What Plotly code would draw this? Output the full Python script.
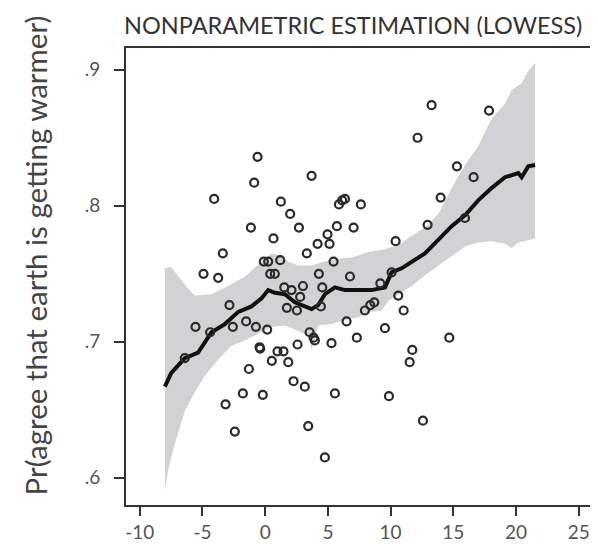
import plotly.graph_objects as go

# scatter points (x, Pr agree)
pts_x = [13.27, 17.85, 12.15, -0.61, 15.29, 3.70, -0.88, 16.62, -4.07, 13.99,
         6.36, 6.14, 5.88, 7.63, 1.25, 1.99, -1.14, 2.69, 5.72, 7.05,
         12.95, 0.66, 4.97, 4.18, 5.13, 10.40, -3.38, 3.32, -0.11, 0.24,
         1.20, 5.45, -4.92, -3.75, 0.40, 0.77, 4.28, 6.76, 10.08, 1.52,
         2.10, 3.01, 4.55, 9.18, 2.79, 10.61, -2.85, 1.73, 2.53, 4.44,
         8.70, 8.38, 7.95, 11.04, -5.56, -4.39, -2.58, -1.52, -0.74, 0.16,
         6.49, 9.55, 3.54, 3.96, 3.86, 7.31, 5.29, 2.58, 14.68, -0.40,
         -0.45, 0.98, 1.46, 0.53, 1.84, 11.73, 11.52, -1.30, 2.26, 3.16,
         -1.78, -0.19, 5.56, 9.87, -3.16, -2.42, 3.43, 12.58, 4.76, -6.41,
         15.93]
pts_y = [.874, .870, .850, .836, .829, .822, .817, .821, .805, .806,
         .805, .804, .801, .801, .803, .794, .784, .784, .785, .784,
         .786, .776, .779, .772, .772, .774, .765, .765, .759, .759,
         .760, .759, .750, .747, .750, .750, .750, .748, .751, .740,
         .738, .741, .740, .743, .733, .734, .727, .725, .723, .726,
         .729, .727, .723, .723, .711, .707, .711, .715, .711, .709,
         .715, .710, .707, .701, .703, .703, .699, .698, .703, .695,
         .696, .693, .693, .686, .685, .694, .685, .680, .671, .667,
         .662, .661, .662, .660, .654, .634, .638, .642, .615, .688,
         .791]

# lowess fit
fit_x = [-8.0, -7.5, -6.41, -5.35, -4.28, -3.22, -2.15, -1.09, -0.29, 0.24,
         0.77, 1.57, 2.37, 3.16, 3.70, 4.23, 4.76, 5.56, 6.36, 7.42,
         8.48, 9.55, 10.08, 10.88, 11.68, 12.74, 13.80, 14.87, 15.93, 16.99,
         18.05, 19.12, 20.19, 20.45, 20.98, 21.52]
fit_y = [.667, .677, .688, .692, .707, .713, .722, .726, .732, .738,
         .736, .735, .729, .726, .724, .727, .735, .740, .738, .738,
         .738, .740, .751, .754, .759, .765, .775, .785, .793, .804,
         .813, .821, .824, .821, .829, .830]

# confidence band
up_x = [-8.0, -7.5, -6.41, -5.61, -4.28, -2.95, -1.62, -0.29, 0.51, 1.04,
        1.84, 2.63, 3.70, 4.76, 5.82, 6.89, 8.22, 9.55, 10.61, 11.68,
        12.74, 13.80, 14.87, 15.93, 16.99, 18.05, 19.12, 19.65, 20.45, 20.98,
        21.52]
up_y = [.754, .755, .742, .734, .735, .741, .748, .759, .765, .764,
        .759, .756, .756, .759, .761, .762, .766, .768, .771, .778,
        .784, .794, .813, .830, .844, .864, .875, .885, .890, .899,
        .905]
lo_x = [-8.0, -7.74, -7.21, -6.41, -5.61, -4.81, -3.75, -2.69, -1.62, -0.56,
        0.51, 1.57, 2.63, 3.57, 3.70, 4.23, 5.29, 6.36, 7.42, 8.48,
        9.28, 9.81, 10.61, 11.68, 12.74, 13.80, 14.87, 15.93, 16.99, 18.05,
        19.12, 19.65, 20.19, 21.52]
lo_y = [.590, .606, .625, .649, .663, .675, .687, .697, .701, .706,
        .711, .712, .708, .704, .694, .712, .713, .716, .718, .722,
        .723, .730, .735, .741, .749, .756, .763, .770, .773, .774,
        .772, .769, .773, .776]

fig = go.Figure()

fig.add_trace(go.Scatter(
    x=up_x + lo_x[::-1], y=up_y + lo_y[::-1],
    fill="toself", fillcolor="#d2d2d4", line=dict(width=0),
    mode="lines", hoverinfo="skip", showlegend=False,
))
fig.add_trace(go.Scatter(
    x=fit_x, y=fit_y, mode="lines",
    line=dict(color="#111111", width=4), showlegend=False,
))
fig.add_trace(go.Scatter(
    x=pts_x, y=pts_y, mode="markers",
    marker=dict(symbol="circle-open", size=8, color="#2a2a2a", line=dict(width=2.2)),
    showlegend=False,
))

fig.update_layout(
    width=598, height=544,
    margin=dict(l=118, r=9, t=40, b=34),
    paper_bgcolor="white", plot_bgcolor="white",
    font=dict(family="Lato, Liberation Sans, sans-serif", color="#444444"),
    title=dict(text="NONPARAMETRIC ESTIMATION (LOWESS)", x=116 / 598, xanchor="left",
               y=1 - 18 / 544, yanchor="middle", font=dict(size=23.5, color="#333333")),
    annotations=[dict(
        text="Pr(agree that earth is getting warmer)", textangle=-90,
        xref="paper", yref="paper", x=(27 - 118) / 471, y=(510 - 253) / 470,
        xanchor="center", yanchor="middle", showarrow=False,
        font=dict(size=29.5, color="#444444"),
    )],
)
fig.update_xaxes(
    range=[-11.1, 26.3], tickvals=[-10, -5, 0, 5, 10, 15, 20, 25],
    ticktext=["-10", "-5", "0", "5", "10", "15", "20", "25"],
    showgrid=False, zeroline=False, showline=True, mirror=True,
    linecolor="#333333", linewidth=2, ticks="outside", ticklen=9, tickwidth=1.5,
    tickcolor="#333333", tickfont=dict(size=19, color="#555555"),
)
fig.update_yaxes(
    range=[.58, .916], tickvals=[.6, .7, .8, .9],
    ticktext=[".6", ".7", ".8", ".9"],
    showgrid=False, zeroline=False, showline=True, mirror=True,
    linecolor="#333333", linewidth=2, ticks="outside", ticklen=10, tickwidth=1.5,
    tickcolor="#333333", tickfont=dict(size=19, color="#555555"), ticklabelstandoff=10,
)

fig.write_html("out.html")
